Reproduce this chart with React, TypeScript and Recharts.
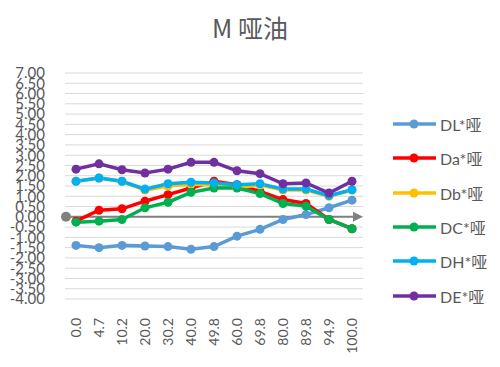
import { LineChart, Line, XAxis, YAxis, CartesianGrid, ReferenceLine } from "recharts";

const categories = ["0.0", "4.7", "10.2", "20.0", "30.2", "40.0", "49.8", "60.0", "69.8", "80.0", "89.8", "94.9", "100.0"];
const dL = [-1.39, -1.5, -1.39, -1.42, -1.45, -1.58, -1.45, -0.94, -0.61, -0.13, 0.11, 0.44, 0.81];
const dA = [-0.21, 0.32, 0.39, 0.76, 1.08, 1.4, 1.73, 1.56, 1.24, 0.84, 0.65, -0.13, -0.58];
const dB = [1.73, 1.89, 1.73, 1.3, 1.5, 1.58, 1.55, 1.42, 1.55, 1.3, 1.3, 1.0, 1.3];
const dC = [-0.26, -0.21, -0.13, 0.44, 0.71, 1.19, 1.4, 1.4, 1.13, 0.65, 0.52, -0.13, -0.58];
const dH = [1.73, 1.89, 1.73, 1.35, 1.61, 1.68, 1.65, 1.56, 1.61, 1.35, 1.35, 1.03, 1.32];
const dE = [2.32, 2.58, 2.29, 2.13, 2.32, 2.65, 2.65, 2.24, 2.1, 1.61, 1.65, 1.16, 1.73];
const yTicks = [-4, -3.5, -3, -2.5, -2, -1.5, -1, -0.5, 0, 0.5, 1, 1.5, 2, 2.5, 3, 3.5, 4, 4.5, 5, 5.5, 6, 6.5, 7];

const series = [
  { key: "DL", name: "DL*哑", color: "#5B9BD5", values: dL },
  { key: "Da", name: "Da*哑", color: "#FF0000", values: dA },
  { key: "Db", name: "Db*哑", color: "#FFC000", values: dB },
  { key: "DC", name: "DC*哑", color: "#00B050", values: dC },
  { key: "DH", name: "DH*哑", color: "#00B0F0", values: dH },
  { key: "DE", name: "DE*哑", color: "#7030A0", values: dE },
];

const data = categories.map((cat, i) => {
  const row: Record<string, string | number> = { cat };
  series.forEach((s) => (row[s.key] = s.values[i]));
  return row;
});

const font = "Lato, 'Noto Sans CJK SC', sans-serif";

function XTick(props: any) {
  const { x, y, payload } = props;
  const ty = y + 11;
  return (
    <text
      x={x}
      y={ty}
      dy="0.35em"
      transform={`rotate(-90 ${x} ${ty})`}
      textAnchor="end"
      fill="#595959"
      fontSize={14}
      fontFamily={font}
    >
      {payload.value}
    </text>
  );
}

function ZeroAxis(props: any) {
  const { x1, y1, x2, y2 } = props;
  return (
    <g>
      <line x1={x1} y1={y1} x2={x2 - 8} y2={y2} stroke="#808080" strokeWidth={2} />
      <circle cx={x1 + 1} cy={y1} r={5} fill="#808080" />
      <polygon points={`${x2 - 10},${y2 - 5} ${x2},${y2} ${x2 - 10},${y2 + 5}`} fill="#808080" />
    </g>
  );
}

function LegendBox() {
  return (
    <div style={{ position: "absolute", left: 392, top: 107, width: 108, fontFamily: font }}>
      {series.map((s) => (
        <div key={s.key} style={{ height: 34.3, display: "flex", alignItems: "center" }}>
          <svg width={46} height={10}>
            <line x1={1} y1={5} x2={44} y2={5} stroke={s.color} strokeWidth={3.5} />
            <circle cx={22} cy={5} r={4.5} fill={s.color} />
          </svg>
          <span style={{ fontSize: 16, color: "#595959", marginLeft: 2 }}>{s.name}</span>
        </div>
      ))}
    </div>
  );
}

export default function App() {
  return (
    <div style={{ position: "absolute", left: 0, top: 0, width: 500, height: 367, background: "#fff" }}>
      <div
        style={{
          position: "absolute",
          top: 9,
          width: 500,
          textAlign: "center",
          fontSize: 25,
          color: "#595959",
          fontFamily: "'Noto Sans CJK SC', sans-serif",
        }}
      >
        M 哑油
      </div>
      <LineChart width={500} height={367} data={data} margin={{ top: 73, right: 137, bottom: 0, left: 0 }}>
        <CartesianGrid vertical={false} stroke="#d9d9d9" />
        <XAxis
          dataKey="cat"
          height={68}
          axisLine={false}
          tickLine={false}
          padding={{ left: 11, right: 11 }}
          interval={0}
          tick={<XTick />}
        />
        <YAxis
          width={65}
          domain={[-4, 7]}
          ticks={yTicks}
          interval={0}
          axisLine={false}
          tickLine={false}
          tickSize={0}
          tickMargin={20}
          tickFormatter={(v) => Number(v).toFixed(2)}
          tick={{ fill: "#595959", fontSize: 15, fontFamily: font }}
        />
        <ReferenceLine y={0} shape={<ZeroAxis />} />
        {series.map((s) => (
          <Line
            key={s.key}
            dataKey={s.key}
            name={s.name}
            stroke={s.color}
            strokeWidth={3.5}
            dot={{ r: 4.5, fill: s.color, stroke: s.color, strokeWidth: 0 }}
            isAnimationActive={false}
          />
        ))}
      </LineChart>
      <LegendBox />
    </div>
  );
}
